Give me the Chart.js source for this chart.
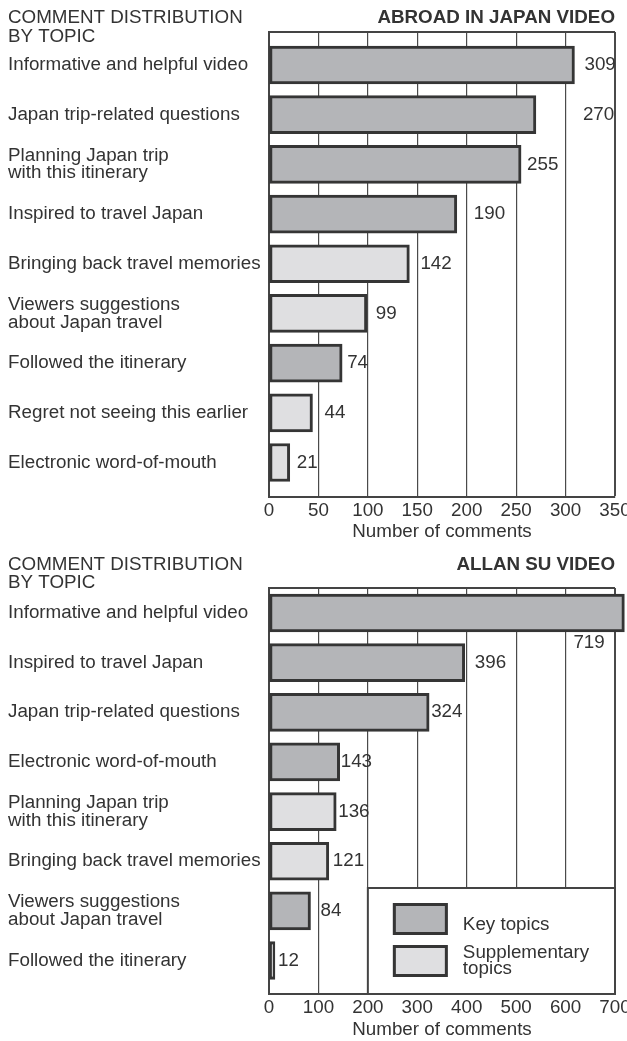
<!DOCTYPE html>
<html>
<head>
<meta charset="utf-8">
<script src="https://cdn.jsdelivr.net/npm/chart.js@4.4.1/dist/chart.umd.min.js"></script>
<style>
  html, body { margin: 0; padding: 0; background: #fff; }
  canvas { display: block; }
</style>
</head>
<body>
<canvas id="chart-abroad" width="627" height="543"></canvas>
<canvas id="chart-allan" width="627" height="498"></canvas>
<script>
// Abroad in Japan video
const abroadTopics = [
  'Informative and helpful video',
  'Japan trip-related questions',
  ['Planning Japan trip', 'with this itinerary'],
  'Inspired to travel Japan',
  'Bringing back travel memories',
  ['Viewers suggestions', 'about Japan travel'],
  'Followed the itinerary',
  'Regret not seeing this earlier',
  'Electronic word-of-mouth'
];
const abroadCounts = [309, 270, 255, 190, 142, 99, 74, 44, 21];
const abroadKinds = ['key', 'key', 'key', 'key', 'sup', 'sup', 'key', 'sup', 'sup'];
const abroadTicks = [0, 50, 100, 150, 200, 250, 300, 350];

// Allan Su video
const allanTopics = [
  'Informative and helpful video',
  'Inspired to travel Japan',
  'Japan trip-related questions',
  'Electronic word-of-mouth',
  ['Planning Japan trip', 'with this itinerary'],
  'Bringing back travel memories',
  ['Viewers suggestions', 'about Japan travel'],
  'Followed the itinerary'
];
const allanCounts = [719, 396, 324, 143, 136, 121, 84, 12];
const allanKinds = ['key', 'key', 'key', 'key', 'sup', 'sup', 'key', 'sup'];
const allanTicks = [0, 100, 200, 300, 400, 500, 600, 700];

const legendNames = { key: 'Key topics', sup: ['Supplementary', 'topics'] };

// styling
const FONT = '"Liberation Sans", Arial, Helvetica, sans-serif';
const FS = 18.8;
const TEXT = '#333';
const LINE = '#444';
const fills = { key: '#b4b5b8', sup: '#dfdfe1' };
const barEdge = '#353535';

// value label nudges (px), to follow the original placement
const abroadLabelDx = [10, 47, 6, 17, 11, 9, 5, 12, 7];
const abroadLabelDy = [0, 0, 0, 0, 0, 0, 0, 0, 0];
const allanLabelDx = [-51, 10, 2, 1, 2, 4, 10, 3];
const allanLabelDy = [30, 0, 0, 0, 0, 0, 0, 0];

Chart.defaults.font.family = FONT;
Chart.defaults.font.size = FS;
Chart.defaults.color = TEXT;

// headings + top frame line
const headingPlugin = {
  id: 'heading',
  beforeDatasetsDraw(chart) {
    const { ctx, chartArea } = chart;
    ctx.save();
    ctx.strokeStyle = LINE;
    ctx.lineWidth = 2;
    ctx.beginPath();
    ctx.moveTo(chartArea.left, chartArea.top);
    ctx.lineTo(chartArea.right, chartArea.top);
    ctx.stroke();
    ctx.restore();
  },
  afterDraw(chart, args, opts) {
    const ctx = chart.ctx;
    ctx.save();
    ctx.fillStyle = TEXT;
    ctx.textBaseline = 'middle';
    ctx.textAlign = 'left';
    ctx.font = `${FS}px ${FONT}`;
    opts.lines.forEach((t, i) => ctx.fillText(t, 8, opts.lineY[i]));
    ctx.textAlign = 'right';
    ctx.font = `bold ${FS}px ${FONT}`;
    ctx.fillText(opts.name, chart.chartArea.right, opts.lineY[0]);
    ctx.restore();
  }
};

// number next to each bar
const valueLabels = {
  id: 'valueLabels',
  afterDatasetsDraw(chart, args, opts) {
    const ctx = chart.ctx;
    const meta = chart.getDatasetMeta(0);
    const data = chart.data.datasets[0].data;
    ctx.save();
    ctx.font = `${FS}px ${FONT}`;
    ctx.fillStyle = TEXT;
    ctx.textAlign = 'left';
    ctx.textBaseline = 'middle';
    meta.data.forEach((bar, i) => {
      ctx.fillText(String(data[i].x), bar.x + opts.dx[i], bar.y + opts.dy[i]);
    });
    ctx.restore();
  }
};

// boxed legend in the lower right of the second panel
const boxLegend = {
  id: 'boxLegend',
  beforeDatasetsDraw(chart, args, opts) {
    if (!opts.show) return;
    const { ctx, chartArea } = chart;
    const x0 = chart.scales.x.getPixelForValue(opts.fromValue);
    const x1 = chartArea.right;
    const y1 = chartArea.bottom;
    const y0 = y1 - opts.height;
    ctx.save();
    ctx.fillStyle = '#fff';
    ctx.fillRect(x0, y0, x1 - x0, y1 - y0);
    ctx.strokeStyle = LINE;
    ctx.lineWidth = 2;
    ctx.strokeRect(x0, y0, x1 - x0, y1 - y0);

    ['key', 'sup'].forEach((k, i) => {
      const sy = y0 + 15 + i * 42;
      ctx.fillStyle = fills[k];
      ctx.fillRect(x0 + 25, sy, 55, 32);
      ctx.strokeStyle = barEdge;
      ctx.lineWidth = 3;
      ctx.strokeRect(x0 + 26.5, sy + 1.5, 52, 29);
      ctx.fillStyle = TEXT;
      ctx.font = `${FS}px ${FONT}`;
      ctx.textAlign = 'left';
      ctx.textBaseline = 'middle';
      const name = legendNames[k];
      if (Array.isArray(name)) {
        name.forEach((t, j) => ctx.fillText(t, x0 + 95, y0 + 65 + j * 16));
      } else {
        ctx.fillText(name, x0 + 95, y0 + 37);
      }
    });
    ctx.restore();
  }
};

function topicAxis(topics, min, max) {
  return {
    type: 'linear',
    reverse: true,
    offset: false,
    min: min,
    max: max,
    afterBuildTicks: s => { s.ticks = topics.map((t, i) => ({ value: i })); },
    afterFit: s => { s.width = 261; },
    ticks: {
      autoSkip: false,
      crossAlign: 'far',
      font: { size: FS, lineHeight: 0.95 },
      callback: v => topics[v]
    },
    grid: { display: false, offset: false },
    border: { display: true, color: LINE, width: 2 }
  };
}

function countAxis(ticks, axisHeight) {
  return {
    type: 'linear',
    min: ticks[0],
    max: ticks[ticks.length - 1],
    afterBuildTicks: s => { s.ticks = ticks.map(v => ({ value: v })); },
    afterFit: s => { s.paddingRight = 0; s.paddingLeft = 0; s.height = axisHeight; },
    ticks: { autoSkip: false, maxRotation: 0, padding: 3 },
    grid: {
      color: '#4a4a4a',
      lineWidth: c => (c.index === ticks.length - 1 ? 2 : 1.2),
      drawTicks: false
    },
    border: { display: true, color: LINE, width: 2 },
    title: {
      display: true,
      text: 'Number of comments',
      padding: { top: 0, bottom: 0 },
      font: { size: FS, lineHeight: 1.2 }
    }
  };
}

function makeChart(id, cfg) {
  return new Chart(document.getElementById(id), {
    type: 'bar',
    data: {
      datasets: [{
        data: cfg.counts.map((c, i) => ({ x: c, y: i })),
        backgroundColor: cfg.kinds.map(k => fills[k]),
        borderColor: barEdge,
        borderWidth: 3,
        borderSkipped: false,
        barThickness: 38,
        clip: false
      }]
    },
    options: {
      indexAxis: 'y',
      responsive: false,
      animation: false,
      layout: { padding: { top: cfg.top, left: 8, right: 12, bottom: 0 } },
      scales: {
        x: countAxis(cfg.ticks, cfg.axisHeight),
        y: topicAxis(cfg.topics, cfg.yMin, cfg.yMax)
      },
      plugins: {
        legend: { display: false },
        tooltip: { enabled: false },
        heading: { lines: ['COMMENT DISTRIBUTION', 'BY TOPIC'], lineY: cfg.headY, name: cfg.name },
        valueLabels: { dx: cfg.dx, dy: cfg.dy },
        boxLegend: { show: cfg.legend, fromValue: 200, height: 106 }
      }
    },
    plugins: [headingPlugin, boxLegend, valueLabels]
  });
}

makeChart('chart-abroad', {
  counts: abroadCounts, kinds: abroadKinds, topics: abroadTopics, ticks: abroadTicks,
  name: 'ABROAD IN JAPAN VIDEO', top: 32, axisHeight: 46, yMin: -0.664, yMax: 8.694,
  headY: [18, 36.5], dx: abroadLabelDx, dy: abroadLabelDy, legend: false
});

makeChart('chart-allan', {
  counts: allanCounts, kinds: allanKinds, topics: allanTopics, ticks: allanTicks,
  name: 'ALLAN SU VIDEO', top: 45, axisHeight: 47, yMin: -0.504, yMax: 7.675,
  headY: [22, 40], dx: allanLabelDx, dy: allanLabelDy, legend: true
});
</script>
</body>
</html>
